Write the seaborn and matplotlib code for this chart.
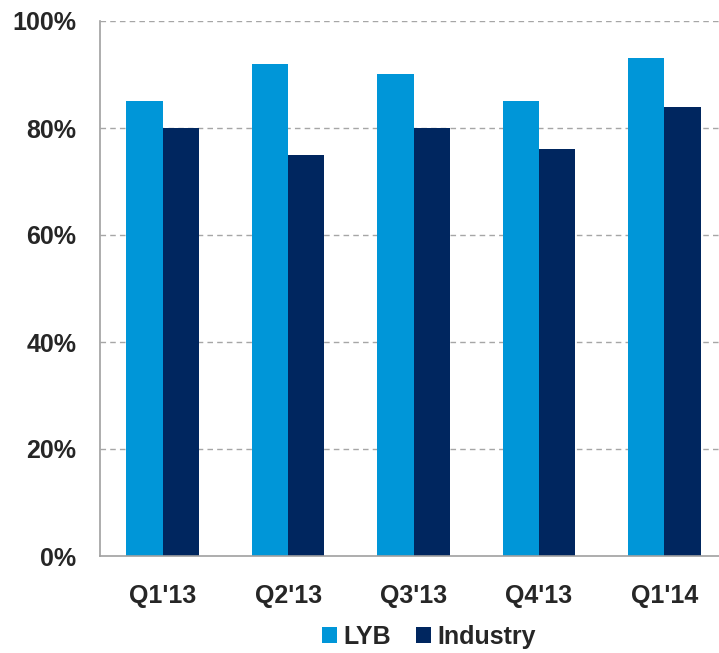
import pandas as pd
import matplotlib.pyplot as plt
import seaborn as sns
from matplotlib.ticker import PercentFormatter

# Data
quarters = ["Q1'13", "Q2'13", "Q3'13", "Q4'13", "Q1'14"]
lyb = [85, 92, 90, 85, 93]
industry = [80, 75, 80, 76, 84]
series_names = ["LYB", "Industry"]
colors = ["#0096D8", "#00265F"]

df = pd.DataFrame({
    "quarter": quarters * 2,
    "value": lyb + industry,
    "series": [series_names[0]] * len(quarters) + [series_names[1]] * len(quarters),
})

sns.set_style("white")
plt.rcParams['font.family'] = ['Liberation Sans', 'DejaVu Sans']

fig = plt.figure(figsize=(7.19, 6.53), dpi=100)
ax = fig.add_axes([100 / 719, 1 - 556 / 653, 1 - 100 / 719, (556 - 21) / 653])

sns.barplot(data=df, x="quarter", y="value", hue="series", palette=colors,
            width=0.58, gap=0, linewidth=0, saturation=1, ax=ax, legend=True)

ax.set_ylim(0, 100)
ax.set_xlim(-0.5, 4.5 - 8 / 125)
ax.set_yticks(range(0, 101, 20))
ax.yaxis.set_major_formatter(PercentFormatter(decimals=0))
ax.set_xlabel("")
ax.set_ylabel("")

# dashed gridlines
for y in range(20, 101, 20):
    ax.axhline(y, color="#A6A6A6", linestyle=(0, (4, 3)), linewidth=1, zorder=0)

for side in ["top", "right"]:
    ax.spines[side].set_visible(False)
for side in ["left", "bottom"]:
    ax.spines[side].set_color("#A0A0A0")
    ax.spines[side].set_linewidth(1.2)

# x ticks at category boundaries, labels centered
ax.set_xticks([i - 0.5 for i in range(len(quarters))], minor=False)
ax.set_xticklabels([])
ax.set_xticks(range(len(quarters)), minor=True)
ax.set_xticklabels(quarters, minor=True)
ax.tick_params(axis="x", which="major", direction="out", length=8, color="#A0A0A0", width=1.2)
ax.tick_params(axis="x", which="minor", length=0, pad=20, labelsize=18)
ax.tick_params(axis="y", direction="out", length=10, color="#A0A0A0", width=1.2, pad=7, labelsize=18)
for lbl in ax.get_xticklabels(minor=True) + ax.get_yticklabels():
    lbl.set_fontweight("bold")

ax.legend_.remove()
handles, labels = ax.get_legend_handles_labels()
fig.legend(handles, labels, loc="center", bbox_to_anchor=(429 / 719, 1 - 637 / 653),
           ncol=2, frameon=False, prop={"size": 18, "weight": "bold"},
           handlelength=0.6, handleheight=0.6, handletextpad=0.25, columnspacing=1.0)

fig.savefig("out.png", dpi=100)
